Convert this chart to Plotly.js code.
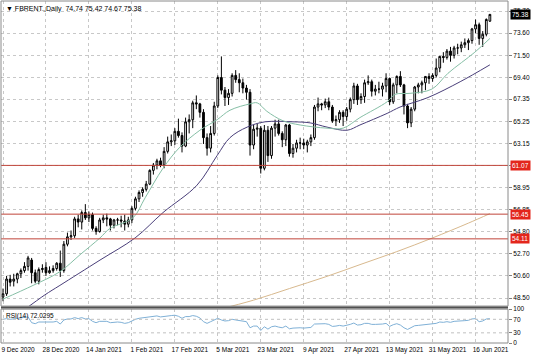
<!DOCTYPE html>
<html>
<head>
<meta charset="utf-8">
<script src="https://cdn.plot.ly/plotly-3.0.1.min.js"></script>
<style>
html,body{margin:0;padding:0;background:#fff;}
#chart{width:536px;height:357px;}
</style>
</head>
<body>
<div id="chart"></div>
<script>
// ---- data (bar index 0 = 9 Dec 2020 ... 136 = 22 Jun 2021) ----
const opens = [48.6,48.9,50.3,50.1,50.3,50.8,51.1,51.5,52.1,50.9,50.1,51.2,51.4,50.9,51.1,51.3,
51.8,51.1,53.6,54.3,54.4,56.0,55.7,56.6,56.1,56.4,55.1,54.8,55.9,56.1,56.0,55.4,55.9,55.9,55.8,55.5,
55.9,57.0,57.9,58.5,58.8,59.3,60.6,61.1,61.5,61.1,62.4,63.3,63.4,64.3,63.9,62.9,65.2,65.4,67.0,66.9,
66.1,63.7,62.7,64.1,66.7,69.4,68.2,67.5,67.9,69.6,69.2,68.9,68.4,68.0,63.0,64.5,64.6,60.8,64.4,62.0,64.6,65.0,64.1,
63.5,64.9,62.2,62.7,63.2,63.2,63.0,63.3,63.7,66.6,66.9,66.8,67.1,66.6,65.3,65.4,66.1,65.7,66.4,67.3,68.6,
67.3,67.6,68.9,69.0,68.1,68.3,68.3,68.6,69.3,67.1,68.7,69.5,68.7,66.7,65.1,66.4,68.5,68.7,68.9,69.5,69.3,
69.6,70.3,71.4,71.3,71.9,71.5,72.2,72.2,72.5,72.7,72.9,74.0,74.4,73.1,73.5,74.74];
const highs = [49.4,50.6,50.7,50.8,50.9,51.3,51.9,52.5,52.3,51.2,51.4,51.7,51.9,51.5,51.6,51.9,
53.0,53.9,54.7,54.9,56.2,56.4,56.8,57.4,56.7,56.6,55.3,56.1,56.4,56.5,56.1,56.0,56.1,56.3,56.4,56.2,
57.2,58.1,58.7,59.0,59.6,60.7,61.3,61.7,61.8,62.8,63.8,64.0,64.6,65.5,64.2,65.6,65.9,67.2,67.7,67.0,
66.4,64.1,64.8,67.1,69.6,71.4,68.5,68.3,69.8,70.1,69.8,69.3,68.7,68.3,64.9,65.0,64.8,64.9,64.8,64.8,65.4,65.4,64.3,
65.0,65.0,63.1,63.5,63.7,63.6,63.5,64.0,66.8,67.5,67.0,67.4,67.5,66.8,65.8,66.3,66.3,66.6,67.5,68.9,68.8,
67.9,69.2,69.6,69.2,68.7,69.0,68.9,69.8,69.4,68.9,69.6,70.0,68.8,66.9,66.6,68.6,68.9,69.1,69.5,69.8,69.8,
71.2,71.4,71.8,72.1,72.3,72.4,72.6,72.8,73.1,73.1,74.1,74.9,74.6,73.8,75.0,75.42];
const lows = [48.2,48.7,49.6,49.6,49.9,50.4,50.9,51.1,49.9,49.9,49.8,50.9,50.6,50.8,50.9,51.1,
50.5,50.9,53.4,54.0,54.2,55.2,55.0,55.9,55.7,54.9,54.5,54.7,55.6,55.3,54.9,55.1,55.4,55.2,54.9,55.2,
55.6,56.8,57.6,58.1,58.6,59.2,60.2,60.7,60.9,60.8,62.2,62.9,63.0,63.7,62.3,62.8,64.1,64.6,66.4,65.6,
63.1,62.0,62.3,63.9,66.5,67.8,66.7,66.8,67.6,68.9,68.0,67.9,67.3,62.0,62.6,63.8,60.3,60.6,61.4,61.7,63.8,63.9,62.8,
62.9,61.9,61.8,62.3,62.6,62.6,62.3,62.9,63.5,66.2,66.3,66.5,66.3,65.1,64.8,65.1,64.8,65.3,66.1,66.9,66.8,
66.9,67.0,68.7,67.6,67.7,67.9,67.6,68.0,66.8,66.9,67.9,68.5,65.9,64.6,64.7,66.2,67.9,67.9,68.2,68.8,69.0,
69.4,69.9,70.8,71.1,70.9,71.2,71.6,71.8,72.2,72.0,72.6,73.6,72.5,72.3,73.3,74.67];
const closes = [48.9,50.3,50.0,50.3,50.8,51.1,51.5,52.3,50.9,50.1,51.2,51.3,50.9,51.1,51.3,51.8,
51.1,53.6,54.3,54.4,56.0,55.7,56.6,56.1,56.4,55.1,54.8,55.9,56.1,56.0,55.4,55.9,55.9,55.8,55.5,55.9,
57.0,57.9,58.5,58.8,59.3,60.6,61.1,61.5,61.1,62.4,63.3,63.4,64.3,63.9,62.9,65.2,65.4,67.0,66.9,66.1,
63.7,62.7,64.1,66.7,69.4,68.2,67.5,67.9,69.6,69.2,68.9,68.4,68.0,63.0,64.5,64.6,60.8,64.4,62.0,64.6,65.0,64.1,63.5,
64.9,62.2,62.7,63.2,63.2,63.0,63.3,63.7,66.6,66.9,66.8,67.1,66.6,65.3,65.4,66.1,65.7,66.4,67.3,68.6,67.3,
67.6,68.9,69.0,68.1,68.3,68.3,68.6,69.3,67.1,68.7,69.5,68.7,66.7,65.1,66.4,68.5,68.7,68.9,69.5,69.3,69.6,
70.3,71.4,71.3,71.9,71.5,72.2,72.2,72.5,72.7,72.9,74.0,74.4,73.1,73.5,74.9,75.38];

const rsi14 = [70,72,70,71,72,73,75,77,60,57,62,62,60,61,62,64,56,68,71,71,75,72,75,71,72,
64,60,64,65,64,60,62,62,61,58,60,66,70,73,74,75,78,79,80,77,79,81,81,82,79,73,78,78,81,79,74,63,
58,63,69,73,68,65,66,70,68,66,64,63,45,50,50,37,48,41,48,50,47,45,50,42,44,45,45,44,45,46,
56,57,56,57,55,49,50,52,50,52,55,59,53,54,58,58,55,55,55,56,58,49,54,57,53,45,40,45,
51,52,53,55,54,55,58,62,61,63,61,64,64,65,66,67,71,72,63,65,71,72.03];

// moving averages, read at sampled bars
const fastMaBar = [0,8.4,15.9,21.5,27.1,29.9,36.3,39.7,44.7,49.4,55,59.8,63.4,69,71,73.7,78.2,83,90.5,95,99.7,107.3,109.5,113.7,119.8,124.3,131.8,136];
const fastMa    = [48.4,49.7,51.0,52.6,54.2,55.1,56.1,58.0,60.8,62.8,64.4,65.4,66.3,66.9,67.0,66.2,65.3,64.9,64.6,64.6,65.6,67.1,67.8,67.9,68.3,69.8,71.8,73.1];
const slowMaBar = [6,11.7,15.9,27.1,36.9,44.7,54.2,59.8,63.4,68.2,73.2,81,85.8,90.5,96.1,99.7,107.3,110.9,118.7,127.7,136];
const slowMa    = [47.4,48.8,49.7,52.1,54.2,56.6,59.2,62.0,63.7,64.7,65.2,65.2,65.1,64.7,64.4,64.9,66.0,66.6,67.5,69.0,70.6];
const ma200Bar  = [60,70,80,90,100,110,120,130,136];
const ma200     = [47.4,48.3,49.4,50.5,51.7,52.9,54.2,55.6,56.5];

const levels = [61.07, 56.45, 54.11];
const lastPrice = 75.38;

const priceTicks = [75.70,73.60,71.50,69.40,67.35,65.25,63.15,61.05,58.95,56.85,54.80,52.70,50.60,48.50];
const priceTickText = ['75.70','73.60','71.50','69.40','67.35','65.25','63.15','61.05','58.95','56.85','54.80','52.70','50.60','48.50'];
const dateBars = [0,12,24,36,48,60,72,84,96,108,120,132];
const dateLabels = ['9 Dec 2020','28 Dec 2020','14 Jan 2021','1 Feb 2021','17 Feb 2021','5 Mar 2021','23 Mar 2021','9 Apr 2021','27 Apr 2021','13 May 2021','31 May 2021','16 Jun 2021'];
const rsiTicks = [0,30,70,100];
const header = '\u25BC FBRENT.,Daily  74.74 75.42 74.67 75.38';
const rsiHeader = 'RSI(14) 72.0295';

// ---- build ----
const bars = closes.map((_, i) => i);
const FONT = 'Liberation Sans, Arial, sans-serif';

const traces = [
  {type:'scatter', mode:'lines', x:ma200Bar, y:ma200, xaxis:'x', yaxis:'y',
   line:{color:'#d8b98e', width:1, shape:'spline'}, hoverinfo:'skip'},
  {type:'scatter', mode:'lines', x:slowMaBar, y:slowMa, xaxis:'x', yaxis:'y',
   line:{color:'#4a3f7a', width:1, shape:'spline'}, hoverinfo:'skip'},
  {type:'scatter', mode:'lines', x:fastMaBar, y:fastMa, xaxis:'x', yaxis:'y',
   line:{color:'#86bfa6', width:1, shape:'spline'}, hoverinfo:'skip'},
  {type:'candlestick', x:bars, open:opens, high:highs, low:lows, close:closes, xaxis:'x', yaxis:'y',
   increasing:{line:{color:'#000000', width:1}, fillcolor:'#ffffff'},
   decreasing:{line:{color:'#000000', width:1}, fillcolor:'#000000'},
   whiskerwidth:0, hoverinfo:'skip'},
  {type:'scatter', mode:'lines', x:bars, y:rsi14, xaxis:'x', yaxis:'y2',
   line:{color:'#7fb0d6', width:1}, hoverinfo:'skip'}
];

const shapes = [];
levels.forEach(v => shapes.push({type:'line', xref:'paper', yref:'y', x0:0, x1:1, y0:v, y1:v,
  line:{color:'#c0453a', width:1}}));
[30,70].forEach(v => shapes.push({type:'line', xref:'paper', yref:'y2', x0:0, x1:1, y0:v, y1:v,
  line:{color:'#c0c0c0', width:1, dash:'dot'}}));
// panel frames
shapes.push({type:'rect', xref:'paper', yref:'paper', x0:0, x1:1, y0:0.108, y1:1, line:{color:'#8a8a8a', width:1}});
shapes.push({type:'rect', xref:'paper', yref:'paper', x0:0, x1:1, y0:0, y1:0.099, line:{color:'#8a8a8a', width:1}});
shapes.push({type:'line', xref:'paper', yref:'paper', x0:0, x1:1, y0:0.104, y1:0.104, line:{color:'#505050', width:2}});

const annotations = [
  {xref:'paper', yref:'paper', x:0, y:1, xanchor:'left', yanchor:'top', xshift:3, yshift:-2,
   text:header, showarrow:false, font:{family:FONT, size:7, color:'#000'}},
  {xref:'paper', yref:'y2', x:0, y:100, xanchor:'left', yanchor:'top', xshift:3, yshift:-1,
   text:rsiHeader, showarrow:false, font:{family:FONT, size:6.5, color:'#000'}},
  {xref:'paper', yref:'y', x:1, y:lastPrice, xanchor:'left', yanchor:'middle', xshift:2,
   text:lastPrice.toFixed(2), showarrow:false, bgcolor:'#000000', borderpad:1,
   font:{family:FONT, size:6.5, color:'#ffffff'}}
];
levels.forEach(v => annotations.push({xref:'paper', yref:'y', x:1, y:v, xanchor:'left', yanchor:'middle', xshift:2,
  text:v.toFixed(2), showarrow:false, bgcolor:'#e3261c', borderpad:1,
  font:{family:FONT, size:6.5, color:'#ffffff'}}));

const layout = {
  width:536, height:357,
  margin:{l:1, r:28, t:1, b:14},
  paper_bgcolor:'#ffffff', plot_bgcolor:'#ffffff',
  showlegend:false,
  font:{family:FONT, size:6.5, color:'#000'},
  xaxis:{range:[-0.56,141.06], anchor:'y2', tickmode:'array', tickvals:dateBars, ticktext:dateLabels,
    showgrid:true, gridcolor:'#c8c8c8', griddash:'dot', gridwidth:1, zeroline:false,
    ticks:'', ticklabelshift:15, ticklabelstandoff:1, tickfont:{family:FONT, size:6.5, color:'#000'},
    rangeslider:{visible:false}, fixedrange:true, showline:false},
  yaxis:{domain:[0.108,1], range:[47.74,76.65], side:'right', tickmode:'array', tickvals:priceTicks, ticktext:priceTickText,
    showgrid:true, gridcolor:'#c8c8c8', griddash:'dot', gridwidth:1, zeroline:false,
    ticks:'outside', ticklen:3, tickcolor:'#808080', tickfont:{family:FONT, size:6.5, color:'#000'}, fixedrange:true},
  yaxis2:{domain:[0,0.099], range:[0,100], side:'right', tickmode:'array', tickvals:rsiTicks, ticktext:rsiTicks.map(String),
    showgrid:false, zeroline:false, ticks:'outside', ticklen:3, tickcolor:'#808080',
    tickfont:{family:FONT, size:6.5, color:'#000'}, fixedrange:true},
  shapes:shapes,
  annotations:annotations
};

Plotly.newPlot('chart', traces, layout, {displayModeBar:false, staticPlot:true});
</script>
</body>
</html>
